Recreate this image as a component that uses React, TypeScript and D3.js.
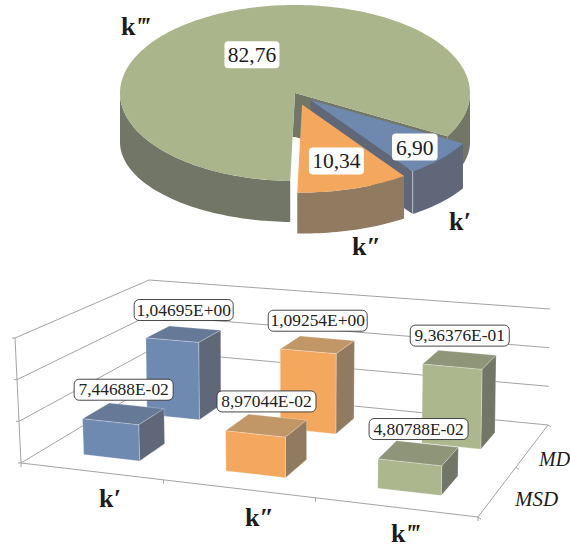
import React from "react";
import * as d3 from "d3";

// Share of each rate constant, in percent
const sliceNames = ["k′", "k″", "k‴"];
const sliceValues = [6.9, 10.34, 82.76];
const sliceValueTexts = ["6,90", "10,34", "82,76"];

// Rate constants per method, on a logarithmic axis
const categories = ["k′", "k″", "k‴"];
const seriesNames = ["MSD", "MD"];
const msdValues = [7.44688e-2, 8.97044e-2, 4.80788e-2];
const mdValues = [1.04695, 1.09254, 9.36376e-1];
const msdTexts = ["7,44688E-02", "8,97044E-02", "4,80788E-02"];
const mdTexts = ["1,04695E+00", "1,09254E+00", "9,36376E-01"];
const logTicks = [0.01, 0.1, 1, 10];

const FONT = "'Liberation Serif', 'Times New Roman', serif";
const GRID = "#a3a3a3";

const palette = [
  { top: "#6f89ae", side: "#5f6779", barTop: "#667a97", front: "#6f8ab0" },
  { top: "#f3a85e", side: "#917b60", barTop: "#c29767", front: "#f4a85e" },
  { top: "#abb58b", side: "#727667", barTop: "#8f9579", front: "#acb78e" },
];

type Pt = [number, number];
const pathOf = (pts: Pt[]) => (d3.line()(pts) ?? "") + "Z";

/* ---------- tilted pie ---------- */
const pieCx = 295;
const pieCy = 93;
const pieRx = 175;
const pieRy = 88;
const baseDrop = 49;
const baseRy = 80;
const firstAngle = (119.5 * Math.PI) / 180;
const explode = [21, 24, 0];
const labelFraction = [0.8, 0.67, 0.5];

const slices = d3
  .pie<number>()
  .sort(null)
  .startAngle(firstAngle)
  .endAngle(firstAngle + 2 * Math.PI)(sliceValues);

function rim(a: number, f = 1, bottom = false, ox = 0, oy = 0): Pt {
  const ry = bottom ? baseRy : pieRy;
  const cy = pieCy + (bottom ? baseDrop : 0);
  return [pieCx + ox + f * pieRx * Math.sin(a), cy + oy - f * ry * Math.cos(a)];
}

function arcPoints(a0: number, a1: number, bottom: boolean, ox: number, oy: number): Pt[] {
  const n = Math.max(2, Math.ceil(Math.abs(a1 - a0) * 40));
  return d3.range(n + 1).map((i) => rim(a0 + ((a1 - a0) * i) / n, 1, bottom, ox, oy));
}

function sideOf(a0: number, a1: number, ox: number, oy: number) {
  return pathOf([...arcPoints(a0, a1, false, ox, oy), ...arcPoints(a1, a0, true, ox, oy)]);
}

function Pie() {
  const deg = Math.PI / 180;
  const offs = slices.map((s, i) => {
    const m = (s.startAngle + s.endAngle) / 2;
    return [explode[i] * Math.sin(m), (-explode[i] * Math.cos(m) * pieRy) / pieRx] as Pt;
  });
  const [blue, orange, green] = slices;
  const [bo, oo] = offs;
  const apexDrop = 44;
  const greenEdge = rim(green.endAngle);
  const greenInner = rim(green.startAngle, 0.5);
  const topOf = (s: (typeof slices)[0], o: Pt) =>
    pathOf([[pieCx + o[0], pieCy + o[1]], ...arcPoints(s.startAngle, s.endAngle, false, o[0], o[1])]);
  const blueTip = rim(blue.endAngle, 1, false, bo[0], bo[1]);
  const blueTipLow = rim(blue.endAngle, 1, true, bo[0], bo[1]);
  return (
    <g>
      {/* inner cut of the large slice */}
      <path
        d={pathOf([[pieCx, pieCy], greenEdge, [greenEdge[0], greenEdge[1] + apexDrop], [pieCx, pieCy + apexDrop], [greenInner[0], pieCy + apexDrop]])}
        fill={palette[2].side}
      />
      <path d={sideOf(90 * deg, green.endAngle - 2 * Math.PI, 0, 0)} fill={palette[2].side} />
      <path d={sideOf(green.startAngle, 270 * deg, 0, 0)} fill={palette[2].side} />
      <path d={topOf(green, [0, 0])} fill={palette[2].top} />
      {/* small slice */}
      <path
        d={pathOf([[pieCx + bo[0], pieCy + bo[1]], blueTip, blueTipLow, [pieCx + bo[0], pieCy + bo[1] + apexDrop]])}
        fill={palette[0].side}
      />
      <path d={sideOf(blue.startAngle, blue.endAngle, bo[0], bo[1])} fill={palette[0].side} />
      <path d={topOf(blue, bo)} fill={palette[0].top} />
      <line x1={blueTip[0]} y1={blueTip[1]} x2={blueTipLow[0]} y2={blueTipLow[1]} stroke="#c6ccd6" strokeWidth={0.8} />
      {/* middle slice */}
      <path d={sideOf(orange.startAngle, orange.endAngle, oo[0], oo[1])} fill={palette[1].side} />
      <path d={topOf(orange, oo)} fill={palette[1].top} />
      {slices.map((s, i) => {
        const [x, y] = rim((s.startAngle + s.endAngle) / 2, labelFraction[i], false, offs[i][0], offs[i][1]);
        const w = sliceValueTexts[i].length * 9.4 + 8;
        return (
          <g key={i}>
            <rect x={x - w / 2} y={y - 13.5} width={w} height={27} rx={4} fill="#fff" />
            <text x={x} y={y + 7.5} textAnchor="middle" fontSize={21.5} fill="#1c1c1c">
              {sliceValueTexts[i]}
            </text>
          </g>
        );
      })}
    </g>
  );
}

/* ---------- perspective bar chart ---------- */
// Floor corners: front-left, front-right, back-right, back-left
const floor: Pt[] = [[21, 463], [478, 517], [548, 425], [149, 386]];
// Height of the value axis at those same corners
const rise: Pt[] = [[-6, -125], [3, -134], [2, -116], [0, -106]];

const homography = (() => {
  const [[x0, y0], [x1, y1], [x2, y2], [x3, y3]] = floor;
  const sx = x0 - x1 + x2 - x3;
  const sy = y0 - y1 + y2 - y3;
  const dx1 = x1 - x2;
  const dx2 = x3 - x2;
  const dy1 = y1 - y2;
  const dy2 = y3 - y2;
  const det = dx1 * dy2 - dx2 * dy1;
  const g = (sx * dy2 - dx2 * sy) / det;
  const h = (dx1 * sy - sx * dy1) / det;
  const a = x1 - x0 + g * x1;
  const b = x3 - x0 + h * x3;
  const d = y1 - y0 + g * y1;
  const e = y3 - y0 + h * y3;
  return (u: number, v: number): Pt => {
    const k = g * u + h * v + 1;
    return [(a * u + b * v + x0) / k, (d * u + e * v + y0) / k];
  };
})();

const heightScale = d3.scaleLog().domain([0.01, 10]).range([0, 1]);
const catScale = d3.scaleBand<string>().domain(categories).range([0, 1]).paddingInner(0.6).paddingOuter(0.3);
const serScale = d3.scaleBand<string>().domain(seriesNames).range([0, 1]).paddingInner(0.6).paddingOuter(0.3);

function project(u: number, v: number, value: number): Pt {
  const [x, y] = homography(u, v);
  const w = heightScale(value);
  const blend = (k: 0 | 1) =>
    (1 - u) * (1 - v) * rise[0][k] + u * (1 - v) * rise[1][k] + u * v * rise[2][k] + (1 - u) * v * rise[3][k];
  return [x + w * blend(0), y + w * blend(1)];
}

function Bar({ cat, ser, value, colour }: { cat: string; ser: string; value: number; colour: number }) {
  const u0 = catScale(cat)!;
  const u1 = u0 + catScale.bandwidth();
  const v0 = serScale(ser)!;
  const v1 = v0 + serScale.bandwidth();
  const base = 0.01;
  const c = palette[colour];
  const edge = { stroke: "#ffffff", strokeOpacity: 0.35, strokeWidth: 0.7 };
  return (
    <g>
      <path d={pathOf([project(u0, v1, value), project(u1, v1, value), project(u1, v0, value), project(u0, v0, value)])} fill={c.barTop} {...edge} />
      <path d={pathOf([project(u1, v0, value), project(u1, v1, value), project(u1, v1, base), project(u1, v0, base)])} fill={c.side} {...edge} />
      <path d={pathOf([project(u0, v0, value), project(u1, v0, value), project(u1, v0, base), project(u0, v0, base)])} fill={c.front} {...edge} />
    </g>
  );
}

function BarLabel({ cat, ser, value, text }: { cat: string; ser: string; value: number; text: string }) {
  const u = catScale(cat)! + catScale.bandwidth() / 2;
  const v = serScale(ser)! + serScale.bandwidth() / 2;
  const [x, y] = project(u, v, value);
  const cy = y - 24;
  return (
    <g>
      <rect x={x - 49.5} y={cy - 10.5} width={99} height={21} rx={5} fill="#fff" stroke="#333" strokeWidth={0.9} />
      <text x={x} y={cy + 5.5} textAnchor="middle" fontSize={17.4} fill="#222">
        {text}
      </text>
    </g>
  );
}

function Bars() {
  const line = (a: Pt, b: Pt, key: string) => (
    <line key={key} x1={a[0]} y1={a[1]} x2={b[0]} y2={b[1]} stroke={GRID} strokeWidth={1} />
  );
  const bands = categories.map((_, i) => i / categories.length);
  const series = [
    { name: "MD", values: mdValues, texts: mdTexts },
    { name: "MSD", values: msdValues, texts: msdTexts },
  ];
  return (
    <g>
      {logTicks.map((t) => (
        <g key={t}>
          {line(project(0, 0, t), project(0, 1, t), `l${t}`)}
          {line(project(0, 1, t), project(1, 1, t), `b${t}`)}
          {line(project(0, 0, t), [project(0, 0, t)[0] - 3, project(0, 0, t)[1]], `t${t}`)}
        </g>
      ))}
      {line(project(0, 0, 0.01), project(0, 0, 10), "axis")}
      {line(project(0, 0, 0.01), project(1, 0, 0.01), "front")}
      {line(project(1, 0, 0.01), project(1, 1, 0.01), "right")}
      {[...bands, 1].map((u) => line(project(u, 0, 0.01), [project(u, 0, 0.01)[0], project(u, 0, 0.01)[1] + 4], `c${u}`))}
      {[0, 0.5, 1].map((v) => line(project(1, v, 0.01), [project(1, v, 0.01)[0] + 3, project(1, v, 0.01)[1] + 2], `s${v}`))}
      {series.map((s) =>
        categories.map((cat, i) => <Bar key={s.name + cat} cat={cat} ser={s.name} value={s.values[i]} colour={i} />)
      )}
      {series.map((s) =>
        categories.map((cat, i) => <BarLabel key={s.name + cat} cat={cat} ser={s.name} value={s.values[i]} text={s.texts[i]} />)
      )}
    </g>
  );
}

function KLabel({ x, y, text }: { x: number; y: number; text: string }) {
  return (
    <text x={x} y={y} fontSize={26} fontWeight="bold" fill="#1c1c1c">
      {text[0]}
      <tspan fontStyle="italic">{text.slice(1)}</tspan>
    </text>
  );
}

export default function App() {
  return (
    <svg
      width={570}
      height={548}
      viewBox="0 0 570 548"
      style={{ position: "absolute", left: 0, top: 0, background: "#fff" }}
      fontFamily={FONT}
    >
      <Pie />
      <KLabel x={121} y={35} text={sliceNames[2]} />
      <KLabel x={449} y={230} text={sliceNames[0]} />
      <KLabel x={352} y={255} text={sliceNames[1]} />
      <Bars />
      <KLabel x={99} y={507} text={categories[0]} />
      <KLabel x={245} y={526} text={categories[1]} />
      <KLabel x={391} y={542} text={categories[2]} />
      <text x={539} y={466} fontSize={20} fontStyle="italic" fill="#1c1c1c">{seriesNames[1]}</text>
      <text x={515} y={506} fontSize={21} fontStyle="italic" fill="#1c1c1c">{seriesNames[0]}</text>
    </svg>
  );
}
